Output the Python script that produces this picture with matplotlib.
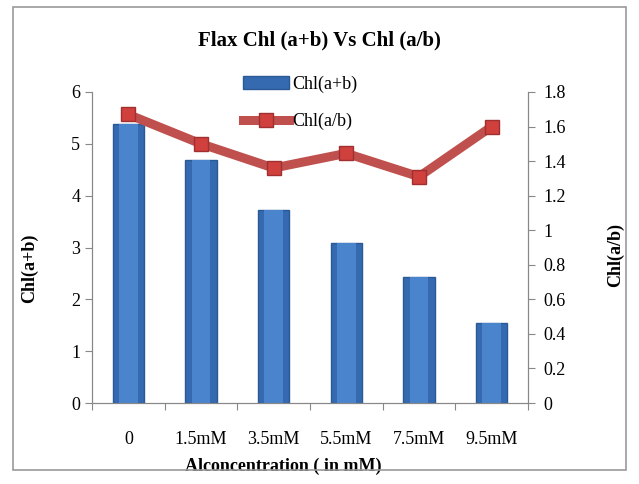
import matplotlib.pyplot as plt
from matplotlib.patches import Rectangle

categories = ['0', '1.5mM', '3.5mM', '5.5mM', '7.5mM', '9.5mM']
chl_ab_sum = [5.39, 4.68, 3.72, 3.09, 2.44, 1.55]
chl_ab_ratio = [1.67, 1.50, 1.36, 1.445, 1.31, 1.60]

plt.rcParams['font.family'] = ['Liberation Serif', 'DejaVu Serif']

fig = plt.figure(figsize=(6.39, 4.84), dpi=100)
# outer chart border
fig.patches.append(Rectangle((13 / 639, 1 - 470 / 484), 613 / 639, 463 / 484,
                             transform=fig.transFigure, fill=False,
                             edgecolor='#9a9a9a', linewidth=1.2))

ax = fig.add_axes([92 / 639, 1 - 403 / 484, 436 / 639, 311 / 484])
ax2 = ax.twinx()

x = list(range(len(categories)))
ax.bar(x, chl_ab_sum, width=0.43, color='#3569b0', edgecolor='#2a5a96',
       linewidth=1, label='Chl(a+b)', zorder=2)
# lighter highlight on each bar
ax.bar(x, chl_ab_sum, width=0.26, color='#4a84cc', linewidth=0, zorder=2.5)

ax2.plot(x, chl_ab_ratio, color='#c0504d', linewidth=6.5, marker='s',
         markersize=10, markerfacecolor='#d0403d', markeredgecolor='#a03030',
         label='Chl(a/b)', zorder=3)

ax.set_xlim(-0.5, 5.5)
ax.set_ylim(0, 6)
ax2.set_ylim(0, 1.8)
ax.set_yticks(range(0, 7))
ax2.set_yticks([0, 0.2, 0.4, 0.6, 0.8, 1, 1.2, 1.4, 1.6, 1.8])
ax2.set_yticklabels(['0', '0.2', '0.4', '0.6', '0.8', '1', '1.2', '1.4', '1.6', '1.8'])

ax.set_xticks([i - 0.5 for i in range(7)], minor=False)
ax.set_xticklabels([])
ax.set_xticks(x, minor=True)
ax.set_xticklabels(categories, minor=True, fontsize=13)
ax.tick_params(axis='x', which='minor', length=0, pad=20)
ax.tick_params(axis='x', which='major', length=5, color='#888888')
ax.tick_params(axis='y', labelsize=13, length=5, color='#888888')
ax2.tick_params(axis='y', labelsize=13, length=5, color='#888888', pad=6)

for a in (ax, ax2):
    a.spines['top'].set_visible(False)
    for s in ('left', 'right', 'bottom'):
        a.spines[s].set_color('#888888')

ax.set_ylabel('Chl(a+b)', fontsize=13, fontweight='bold')
ax.yaxis.set_label_coords(-0.124, 0.434)
ax2.set_ylabel('Chl(a/b)', fontsize=13, fontweight='bold')
ax2.yaxis.set_label_coords(1.181, 0.476)
ax.set_xlabel('Alconcentration ( in mM)', fontsize=13, fontweight='bold')
ax.xaxis.set_label_coords(0.438, -0.177)

fig.text(0.5, 1 - 40 / 484, 'Flax Chl (a+b) Vs Chl (a/b)', ha='center', va='center',
         fontsize=15, fontweight='bold')

h1, l1 = ax.get_legend_handles_labels()
h2, l2 = ax2.get_legend_handles_labels()
ax2.legend(h1 + h2, l1 + l2, loc='upper left', bbox_to_anchor=(0.31, 1.105),
           frameon=False, fontsize=13, labelspacing=1.1, handlelength=2.5,
           handletextpad=0.2)

plt.savefig('out.png', dpi=100)
